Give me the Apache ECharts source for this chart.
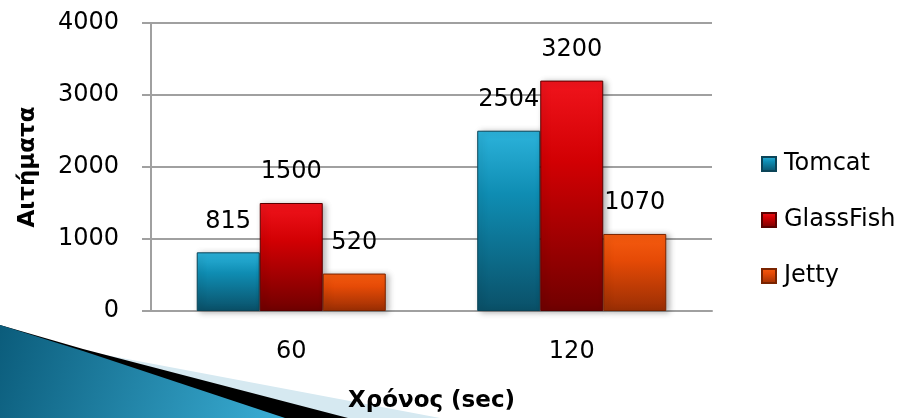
<!DOCTYPE html>
<html>
<head>
<meta charset="utf-8">
<script src="https://cdn.jsdelivr.net/npm/echarts@6/dist/echarts.min.js"></script>
<style>html,body{margin:0;padding:0;background:#fff;}#c{width:906px;height:418px;}</style>
</head>
<body>
<div id="c"></div>
<script>
var categories = ['60', '120'];
var tomcat = [815, 2504];
var glassfish = [1500, 3200];
var jetty = [520, 1070];
var seriesNames = ['Tomcat', 'GlassFish', 'Jetty'];
var yMin = 0, yMax = 4000, yStep = 1000;

var FONT = 'DejaVu Sans';
function grad(top, mid, bot) {
  return new echarts.graphic.LinearGradient(0, 0, 0, 1, [
    {offset: 0, color: top}, {offset: 0.35, color: mid}, {offset: 1, color: bot}
  ]);
}
var colors = [
  grad('#2cb3db', '#0f8db3', '#0a5068'),
  grad('#f0141c', '#d20003', '#700000'),
  grad('#f65c10', '#e54a06', '#9a2e04')
];
var borders = ['#0b4458', '#5a0000', '#7a2400'];

function mkSeries(name, data, i) {
  return {
    name: name, type: 'bar', data: data,
    barGap: '0%', barCategoryGap: '32.6%',
    itemStyle: {
      color: colors[i], borderColor: borders[i], borderWidth: 1,
      shadowColor: 'rgba(0,0,0,0.3)', shadowBlur: 6, shadowOffsetX: 3, shadowOffsetY: 1
    },
    label: {show: true, position: 'top', distance: 19, color: '#000', fontSize: 24, fontFamily: FONT},
    emphasis: {disabled: true}
  };
}

var chart = echarts.init(document.getElementById('c'), null, {renderer: 'canvas'});
chart.setOption({
  animation: false,
  backgroundColor: '#fff',
  grid: {left: 151, right: 194, top: 23, bottom: 105, containLabel: false},
  legend: {
    orient: 'vertical', left: 756, top: 147,
    icon: 'rect', itemWidth: 14, itemHeight: 14, itemGap: 32,
    textStyle: {fontSize: 24, fontFamily: FONT, color: '#000', padding: [0, 0, 0, 3]},
    data: seriesNames
  },
  xAxis: {
    type: 'category', data: categories,
    axisLine: {lineStyle: {color: '#a0a0a0', width: 2}},
    axisTick: {show: false},
    axisLabel: {color: '#000', fontSize: 24, fontFamily: FONT, margin: 29},
    name: 'Χρόνος (sec)', nameLocation: 'middle', nameGap: 79,
    nameTextStyle: {color: '#000', fontSize: 23, fontWeight: 'bold', fontFamily: FONT}
  },
  yAxis: {
    type: 'value', min: yMin, max: yMax, interval: yStep,
    axisLine: {show: true, lineStyle: {color: '#a0a0a0', width: 2}},
    axisTick: {show: true, length: 9, lineStyle: {color: '#a0a0a0', width: 2}},
    splitLine: {lineStyle: {color: '#a0a0a0', width: 2}},
    axisLabel: {color: '#000', fontSize: 24, fontFamily: FONT, margin: 32, formatter: function (v) { return String(v); }},
    name: 'Αιτήματα', nameLocation: 'middle', nameGap: 111, nameRotate: 90,
    nameTextStyle: {color: '#000', fontSize: 23, fontWeight: 'bold', fontFamily: FONT}
  },
  graphic: {
    elements: [
      {type: 'polygon', z: -10, shape: {points: [[90, 352], [440, 418], [0, 418]]}, style: {fill: '#d6e9f1'}},
      {type: 'polygon', z: -9, shape: {points: [[0, 325], [83, 349], [348, 418], [0, 418]]}, style: {fill: '#000'}},
      {type: 'polygon', z: -8, shape: {points: [[0, 325], [83, 351], [285, 418], [0, 418]]},
        style: {fill: new echarts.graphic.LinearGradient(0, 0, 1, 1, [
          {offset: 0, color: '#0b5c7b'}, {offset: 1, color: '#3aaed5'}])}}
    ]
  },
  series: [
    mkSeries(seriesNames[0], tomcat, 0),
    mkSeries(seriesNames[1], glassfish, 1),
    mkSeries(seriesNames[2], jetty, 2)
  ]
});
</script>
</body>
</html>
